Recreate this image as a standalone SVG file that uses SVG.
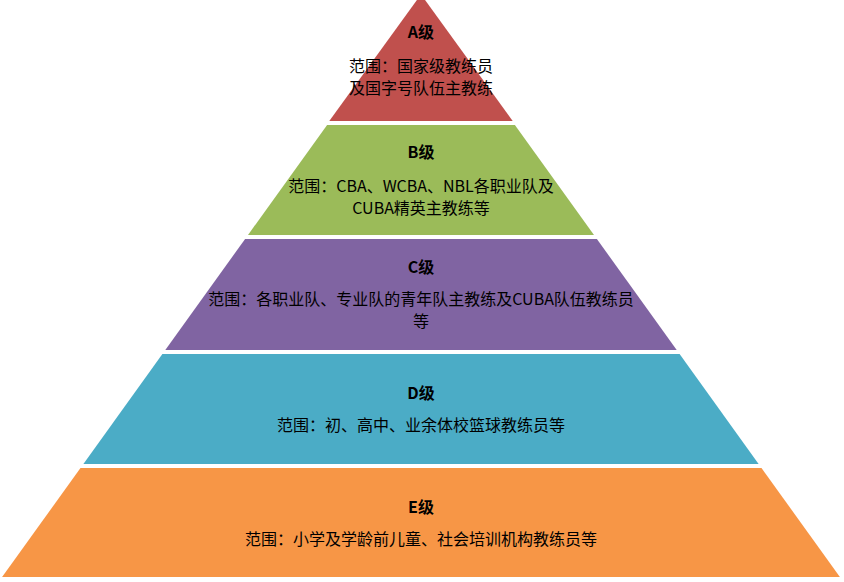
<svg xmlns="http://www.w3.org/2000/svg" width="844" height="582" viewBox="0 0 844 582">
<style>
text{font-family:"Noto Sans CJK SC","Liberation Sans",sans-serif;font-size:16px;fill:#000;text-anchor:middle}
.t{font-weight:bold}
</style>
<rect width="844" height="582" fill="#fff"/>
<g id="A"><polygon points="421,-5.6 329.3,121 512.7,121" fill="#C0504D"/>
<text class="t" x="421" y="38">A级</text><text x="421" y="72">范围：国家级教练员</text><text x="421" y="94">及国字号队伍主教练</text></g>
<g id="B"><polygon points="327.1,125 514.9,125 594,235 248,235" fill="#9BBB59"/>
<text class="t" x="421" y="158">B级</text><text x="421" y="192">范围：CBA、WCBA、NBL各职业队及</text><text x="421" y="214">CUBA精英主教练等</text></g>
<g id="C"><polygon points="245.1,239 596.9,239 676.7,350 165.3,350" fill="#8064A2"/>
<text class="t" x="421" y="273">C级</text><text x="421" y="305">范围：各职业队、专业队的青年队主教练及CUBA队伍教练员</text><text x="421" y="327">等</text></g>
<g id="D"><polygon points="162.4,354 679.6,354 758.6,464 83.4,464" fill="#4BACC6"/>
<text class="t" x="421" y="399">D级</text><text x="421" y="431">范围：初、高中、业余体校篮球教练员等</text></g>
<g id="E"><polygon points="80.5,468 761.5,468 839.9,577 2.1,577" fill="#F79646"/>
<text class="t" x="421" y="513">E级</text><text x="421" y="545">范围：小学及学龄前儿童、社会培训机构教练员等</text></g>
<g id="connectors"/>
</svg>
